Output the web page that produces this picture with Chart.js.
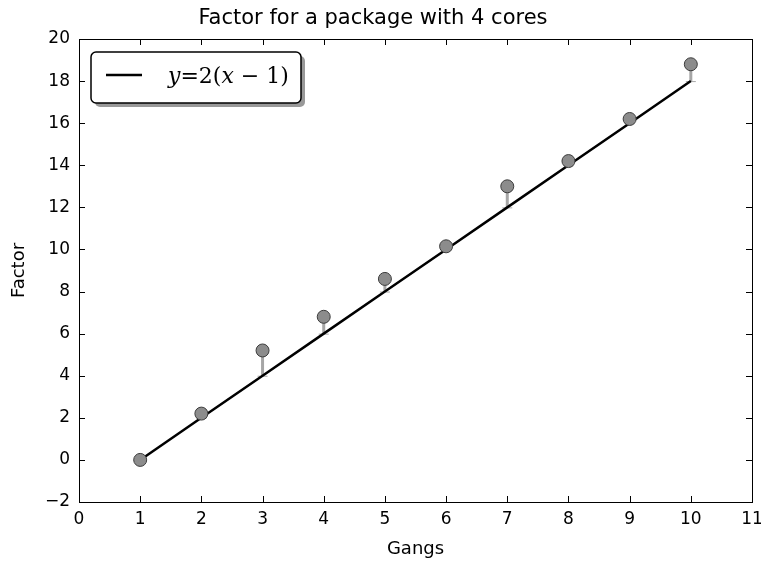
<!DOCTYPE html>
<html>
<head>
<meta charset="utf-8">
<script src="https://cdn.jsdelivr.net/npm/chart.js@4"></script>
<style>
  html, body { margin: 0; padding: 0; background: #fff; }
  #wrap { width: 761px; height: 562px; position: relative; }
</style>
</head>
<body>
<div id="wrap"><canvas id="factorChart"></canvas></div>
<script>
// data
var gangs = [1, 2, 3, 4, 5, 6, 7, 8, 9, 10];
var factor = [0, 2.2, 5.2, 6.8, 8.6, 10.15, 13.0, 14.2, 16.2, 18.8];
var ideal = [0, 2, 4, 6, 8, 10, 12, 14, 16, 18];   // y = 2(x-1)
var xTicks = [0, 1, 2, 3, 4, 5, 6, 7, 8, 9, 10, 11];
var yTicks = [-2, 0, 2, 4, 6, 8, 10, 12, 14, 16, 18, 20];

var sans = "'DejaVu Sans', sans-serif";

// error bars from the ideal line up to the measured point, drawn under the marks
var errorBars = {
    id: 'errorBars',
    beforeDatasetsDraw: function (chart) {
        var ctx = chart.ctx, xs = chart.scales.x, ys = chart.scales.y;
        ctx.save();
        ctx.strokeStyle = '#a6a6a6';
        for (var i = 0; i < gangs.length; i++) {
            var px = xs.getPixelForValue(gangs[i]);
            var lo = ys.getPixelForValue(ideal[i]);
            var hi = ys.getPixelForValue(factor[i]);
            ctx.lineWidth = 3;
            ctx.beginPath(); ctx.moveTo(px, lo); ctx.lineTo(px, hi); ctx.stroke();
            ctx.lineWidth = 1;
            ctx.beginPath(); ctx.moveTo(px - 5, lo + 0.5); ctx.lineTo(px + 5, lo + 0.5); ctx.stroke();
        }
        ctx.restore();
    }
};

// matplotlib-like frame: box, inward ticks on all sides, title, axis labels, legend
var frame = {
    id: 'frame',
    afterDraw: function (chart) {
        var ctx = chart.ctx, a = chart.chartArea, xs = chart.scales.x, ys = chart.scales.y;
        ctx.save();
        ctx.strokeStyle = '#000';
        ctx.lineWidth = 1;
        ctx.strokeRect(Math.round(a.left) + 0.5, Math.round(a.top) + 0.5,
            Math.round(a.right - a.left), Math.round(a.bottom - a.top));
        ctx.beginPath();
        xTicks.forEach(function (v) {
            var p = Math.round(xs.getPixelForValue(v)) + 0.5;
            ctx.moveTo(p, a.bottom); ctx.lineTo(p, a.bottom - 6);
            ctx.moveTo(p, a.top); ctx.lineTo(p, a.top + 6);
        });
        yTicks.forEach(function (v) {
            var p = Math.round(ys.getPixelForValue(v)) + 0.5;
            ctx.moveTo(a.left, p); ctx.lineTo(a.left + 6, p);
            ctx.moveTo(a.right, p); ctx.lineTo(a.right - 6, p);
        });
        ctx.stroke();

        ctx.fillStyle = '#000';
        ctx.textAlign = 'center';
        ctx.textBaseline = 'middle';
        ctx.font = '21px ' + sans;
        ctx.fillText('Factor for a package with 4 cores', 373, 19);
        ctx.font = '18px ' + sans;
        ctx.fillText('Gangs', (a.left + a.right) / 2, 549);
        ctx.save();
        ctx.translate(19, (a.top + a.bottom) / 2);
        ctx.rotate(-Math.PI / 2);
        ctx.fillText('Factor', 0, 0);
        ctx.restore();

        // legend box with shadow
        var bx = 91, by = 52, bw = 210, bh = 51, r = 5;
        function box(x, y) {
            ctx.beginPath();
            ctx.roundRect(x, y, bw, bh, r);
        }
        ctx.fillStyle = '#999';
        box(bx + 4, by + 4); ctx.fill();
        ctx.fillStyle = '#fff';
        box(bx, by); ctx.fill();
        ctx.lineWidth = 1.5;
        ctx.strokeStyle = '#000';
        box(bx, by); ctx.stroke();
        ctx.lineWidth = 2.5;
        ctx.beginPath(); ctx.moveTo(106, 75); ctx.lineTo(142, 75); ctx.stroke();

        // legend label: y = 2(x - 1), math style
        var parts = [
            ['y', 'italic'], ['=', ''], ['2(', ''], ['x', 'italic'], [' \u2212 ', ''], ['1)', '']
        ];
        ctx.textAlign = 'left';
        ctx.textBaseline = 'alphabetic';
        ctx.fillStyle = '#000';
        var tx = 168;
        parts.forEach(function (p) {
            ctx.font = (p[1] ? 'italic ' : '') + "22px 'DejaVu Serif', serif";
            ctx.fillText(p[0], tx, 83);
            tx += ctx.measureText(p[0]).width;
        });
        ctx.restore();
    }
};

new Chart(document.getElementById('factorChart').getContext('2d'), {
    data: {
        datasets: [{
            type: 'scatter',
            label: 'measured',
            data: gangs.map(function (g, i) { return { x: g, y: factor[i] }; }),
            pointRadius: 6.5,
            pointBackgroundColor: '#8c8c8c',
            pointBorderColor: '#3c3c3c',
            pointBorderWidth: 1
        }, {
            type: 'line',
            label: 'y = 2(x - 1)',
            data: gangs.map(function (g, i) { return { x: g, y: ideal[i] }; }),
            borderColor: '#000',
            borderWidth: 2.5,
            pointRadius: 0,
            fill: false
        }]
    },
    options: {
        responsive: true,
        maintainAspectRatio: false,
        animation: false,
        layout: { padding: { top: 39, right: 0, left: 0, bottom: 0 } },
        plugins: {
            legend: { display: false },
            title: { display: false },
            tooltip: { enabled: false }
        },
        scales: {
            x: {
                type: 'linear', min: 0, max: 11,
                grid: { display: false, drawTicks: false },
                border: { display: false },
                afterFit: function (s) { s.height = 60; s.paddingRight = 9; },
                afterBuildTicks: function (s) { s.ticks = xTicks.map(function (v) { return { value: v }; }); },
                ticks: { color: '#000', padding: 7, font: { family: sans, size: 17 } }
            },
            y: {
                type: 'linear', min: -2, max: 20,
                grid: { display: false, drawTicks: false },
                border: { display: false },
                afterFit: function (s) { s.width = 79; },
                afterBuildTicks: function (s) { s.ticks = yTicks.map(function (v) { return { value: v }; }); },
                ticks: {
                    color: '#000', padding: 9, font: { family: sans, size: 17 },
                    callback: function (v) { return String(v).replace('-', '\u2212'); }
                }
            }
        }
    },
    plugins: [errorBars, frame]
});
</script>
</body>
</html>
